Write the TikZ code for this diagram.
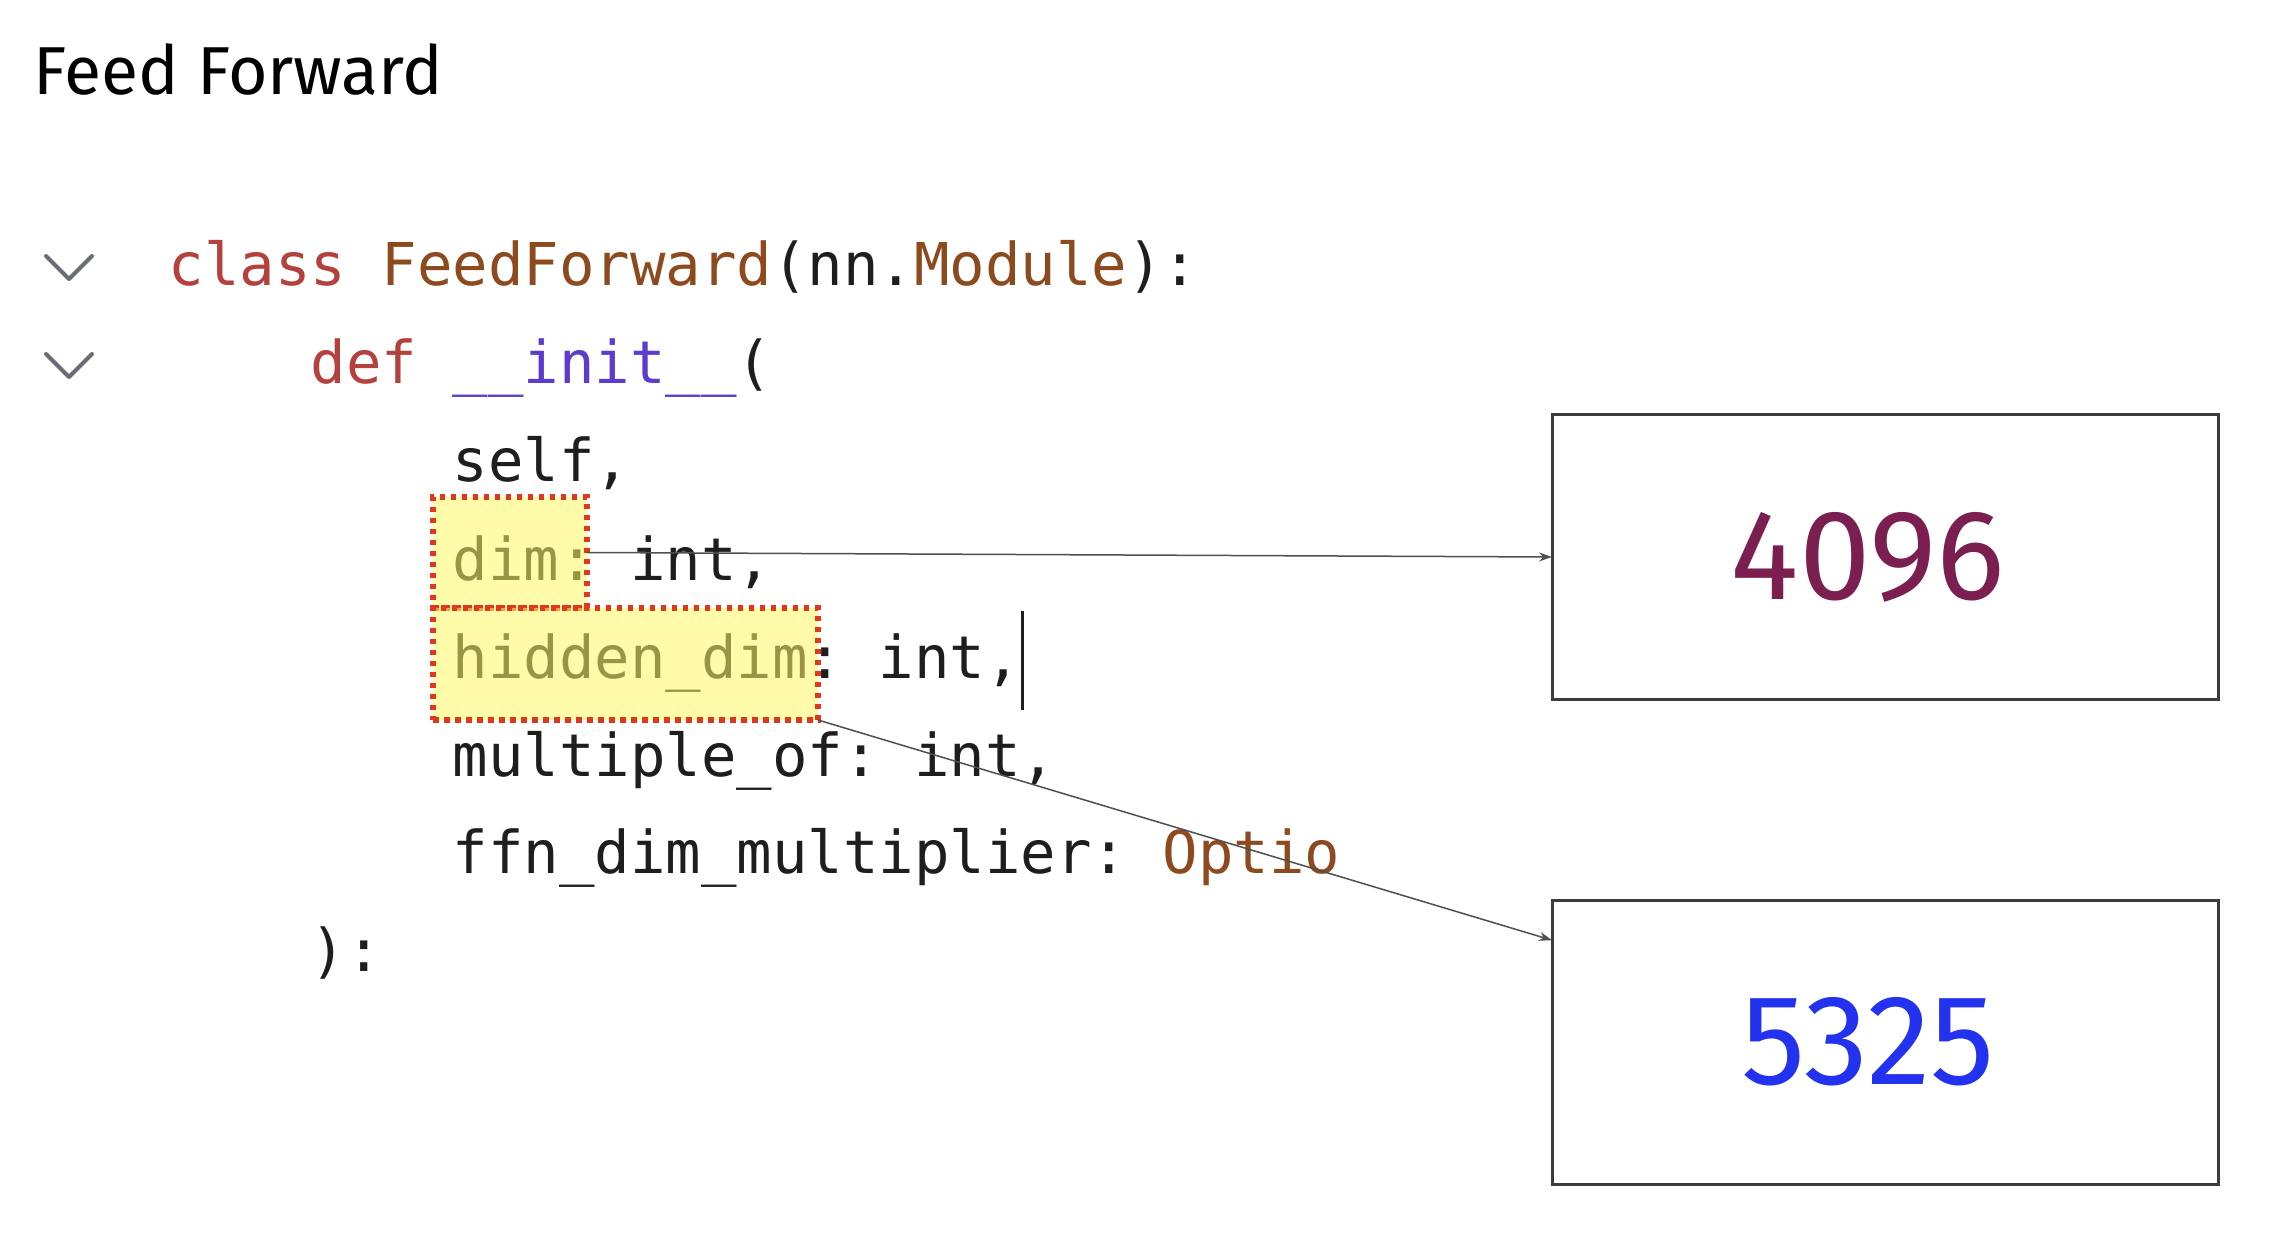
\documentclass[tikz,border=0pt]{standalone}
\usepackage{fontspec}
\setmainfont{Fira Sans}
\setmonofont{DejaVu Sans Mono}
\usetikzlibrary{arrows.meta,calc}
\definecolor{kwred}{RGB}{181,65,63}
\definecolor{codebrown}{RGB}{140,74,30}
\definecolor{codepurple}{RGB}{92,59,205}
\definecolor{codeblack}{RGB}{30,30,30}
\definecolor{hlyellow}{RGB}{255,248,100}
\definecolor{hlred}{RGB}{225,55,30}
\definecolor{chevgray}{RGB}{105,110,118}
\definecolor{boxgray}{RGB}{60,60,60}
\definecolor{conngray}{RGB}{80,80,80}
\definecolor{numone}{RGB}{122,31,79}
\definecolor{numtwo}{RGB}{35,50,238}
\begin{document}
\begin{tikzpicture}[x=0.1mm,y=-0.1mm,
  code/.style={anchor=base west, inner sep=0pt, font=\ttfamily\fontsize{16.78pt}{20pt}\selectfont, text=codeblack},
  hl/.style={draw=hlred, line width=0.6mm, dash pattern=on 0.55mm off 0.55mm, fill=hlyellow, fill opacity=0.55, draw opacity=1, anchor=north west, inner sep=0pt, outer sep=0pt},
  valbox/.style={draw=boxgray, line width=0.3mm, minimum width=66.6mm, minimum height=28.4mm, inner sep=0pt, outer sep=0pt, anchor=north west, font=\fontsize{36.5pt}{42pt}\selectfont},
  conn/.style={draw=conngray, line width=0.15mm, -{Stealth[length=1.3mm,width=0.9mm]}},
  chev/.style={draw=chevgray, line width=0.4mm, line cap=round, line join=round}]
\useasboundingbox[fill=white] (0,0) rectangle (2270,1258);

\node[anchor=base west, inner sep=0pt, font=\fontsize{19.3pt}{23pt}\selectfont] (title) at (33,95) {Feed Forward};

\draw[chev] (46,256) -- (69,279) -- (92,256);
\draw[chev] (46,354) -- (69,377) -- (92,354);

\node[code] (l0) at (168,286) {\textcolor{kwred}{class} \textcolor{codebrown}{FeedForward}(nn.\textcolor{codebrown}{Module}):};
\node[code] (l1) at (310,384) {\textcolor{kwred}{def} \textcolor{codepurple}{\_\_init\_\_}(};
\node[code] (l2) at (452,482) {self,};
\node[code] (l3) at (452,580) {dim: int,};
\node[code] (l4) at (452,678) {hidden\_dim: int,};
\node[code] (l5) at (452,776) {multiple\_of: int,};
\node[code] (l6) at (452,873) {ffn\_dim\_multiplier: \textcolor{codebrown}{Optio}};
\node[code] (l7) at (310,971) {):};
\draw[line width=0.3mm, codeblack] (1022,611) -- (1022,710);

\node[hl, minimum width=15.4mm, minimum height=11.1mm] (hd) at (433,497) {};
\node[hl, minimum width=38.5mm, minimum height=11.2mm] (hh) at (433,608) {};

\node[valbox, text=numone] (b1) at (1552,415) {4096\kern3.4mm};
\node[valbox, text=numtwo] (b2) at (1552,900) {5325\kern3.4mm};

\draw[conn] (hd.east) -- (b1.west);
\draw[conn] (hh.south east) -- (b2.163);
\end{tikzpicture}
\end{document}
